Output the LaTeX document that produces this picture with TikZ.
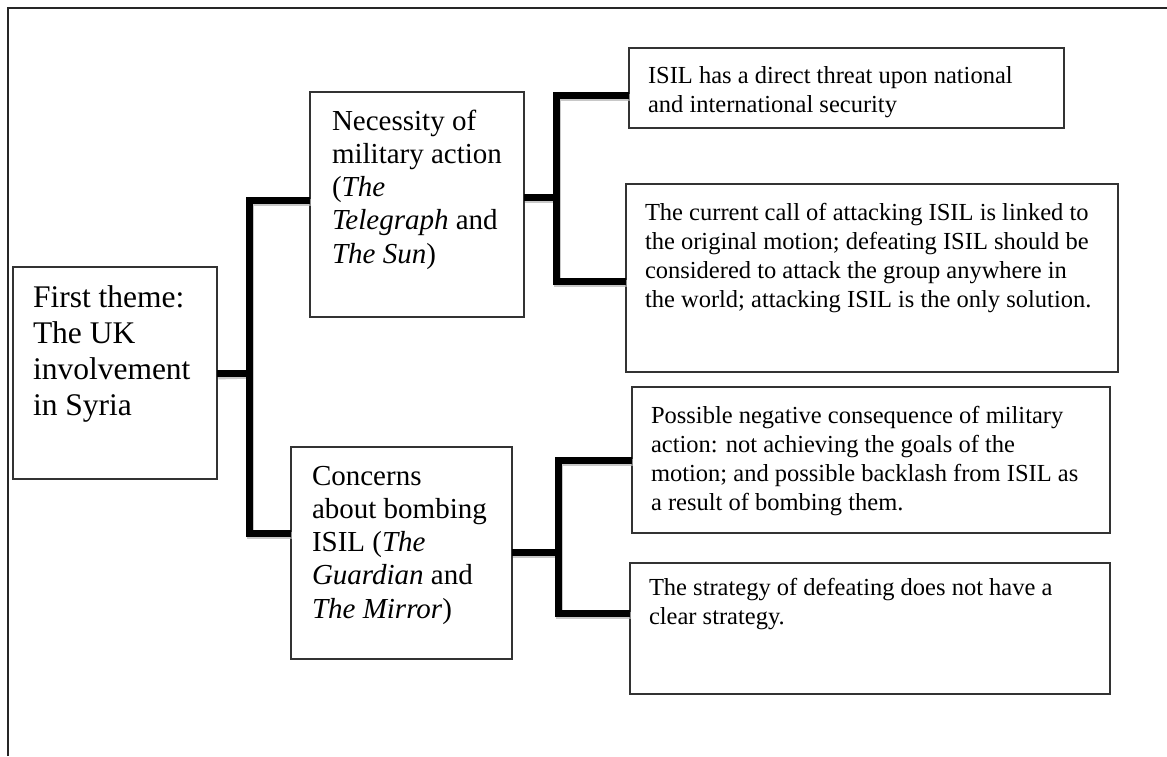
\documentclass[tikz,border=0pt]{standalone}
\usepackage{fontspec}
\setmainfont{Liberation Serif}
\begin{document}
\begin{tikzpicture}[x=1pt,y=-1pt,
  box/.style={draw=black!80, line width=1.1pt, fill=white, anchor=north west, inner sep=0pt, outer sep=0pt},
  txt/.style={anchor=base west, inner sep=0pt, outer sep=0pt},
  conn/.style={line width=7pt, line join=miter, line cap=butt, black},
  shade/.style={line width=7pt, line join=miter, line cap=butt, black!30, opacity=0.7, transform canvas={shift={(1.2pt,-2.2pt)}}},
  big/.style={font=\fontsize{31.5}{36.3}\selectfont},
  mid/.style={font=\fontsize{29}{33.3}\selectfont},
  small/.style={font=\fontsize{24.5}{29}\selectfont}
]
\useasboundingbox (0,0) rectangle (1167,756);
\fill[white] (0,0) rectangle (1167,756);
% outer frame (only top and left visible)
\draw[black!85, line width=1.4pt] (8,756) -- (8,8) -- (1167,8);

% junction coordinates
\coordinate (j1t) at (249,200);
\coordinate (j1b) at (249,533.5);
\coordinate (j2t) at (556,95);
\coordinate (j2m) at (556,197);
\coordinate (j2b) at (556,281.5);
\coordinate (j3t) at (558,460);
\coordinate (j3m) at (558,552.5);
\coordinate (j3b) at (558,613.5);

% boxes
\node[box, minimum width=204, minimum height=212] (A) at (13,267) {};
\node[box, minimum width=214, minimum height=225] (B) at (310,92) {};
\node[box, minimum width=221, minimum height=212] (C) at (291,447) {};
\node[box, minimum width=435, minimum height=80]  (D) at (629,48) {};
\node[box, minimum width=492, minimum height=188] (E) at (626,184) {};
\node[box, minimum width=478, minimum height=146] (F) at (632,387) {};
\node[box, minimum width=480, minimum height=131] (G) at (630,563) {};

% connector shadows
\draw[shade] (A.east |- 0,373.7) -- (A.east -| j1t);
\draw[shade] (B.west |- j1t) -- (j1t) -- (j1b) -- (C.west |- j1b);
\draw[shade] (B.east |- j2m) -- (j2m);
\draw[shade] (D.west |- j2t) -- (j2t) -- (j2b) -- (E.west |- j2b);
\draw[shade] (C.east |- j3m) -- (j3m);
\draw[shade] (F.west |- j3t) -- (j3t) -- (j3b) -- (G.west |- j3b);

% connectors
\draw[conn] (A.east) -- (A.east -| j1t);
\draw[conn] (B.west |- j1t) -- (j1t) -- (j1b) -- (C.west |- j1b);
\draw[conn] (B.east |- j2m) -- (j2m);
\draw[conn] (D.west |- j2t) -- (j2t) -- (j2b) -- (E.west |- j2b);
\draw[conn] (C.east |- j3m) -- (j3m);
\draw[conn] (F.west |- j3t) -- (j3t) -- (j3b) -- (G.west |- j3b);

% texts
\node[txt, big] (At) at (33,307) {\parbox[t]{190pt}{\raggedright First theme:\\The UK\\involvement\\in Syria}};
\node[txt, mid] (Bt) at (332,130) {\parbox[t]{200pt}{\raggedright Necessity of\\military action\\(\textit{The}\\\textit{Telegraph} and\\\textit{The Sun})}};
\node[txt, mid] (Ct) at (312,485) {\parbox[t]{200pt}{\raggedright Concerns\\about bombing\\ISIL (\textit{The}\\\textit{Guardian} and\\\textit{The Mirror})}};
\node[txt, small] (Dt) at (648,83) {\parbox[t]{420pt}{\raggedright ISIL has a direct threat upon national\\and international security}};
\node[txt, small] (Et) at (645,220) {\parbox[t]{480pt}{\raggedright The current call of attacking ISIL is linked to\\the original motion; defeating ISIL should be\\considered to attack the group anywhere in\\the world; attacking ISIL is the only solution.}};
\node[txt, small] (Ft) at (651,423) {\parbox[t]{460pt}{\raggedright Possible negative consequence of military\\action: not achieving the goals of the\\motion; and possible backlash from ISIL as\\a result of bombing them.}};
\node[txt, small] (Gt) at (649,595) {\parbox[t]{460pt}{\raggedright The strategy of defeating does not have a\\clear strategy.}};
\end{tikzpicture}
\end{document}
